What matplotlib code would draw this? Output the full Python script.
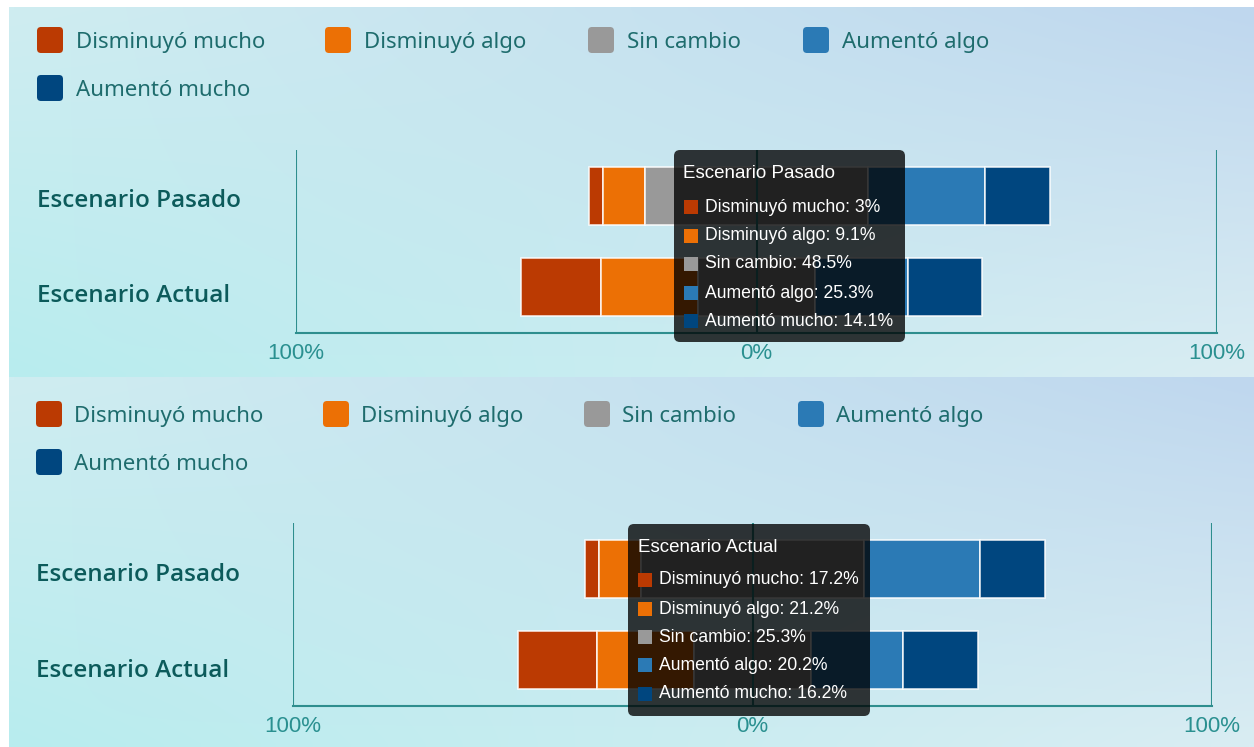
import numpy as np
import matplotlib
matplotlib.use("Agg")
import matplotlib.pyplot as plt
from matplotlib.patches import FancyBboxPatch, Rectangle

# ---------------- data ----------------
categories = ["Escenario Pasado", "Escenario Actual"]
series_names = ["Disminuyó mucho", "Disminuyó algo", "Sin cambio", "Aumentó algo", "Aumentó mucho"]
disminuyo_mucho = [3.0, 17.2]
disminuyo_algo = [9.1, 21.2]
sin_cambio = [48.5, 25.3]
aumento_algo = [25.3, 20.2]
aumento_mucho = [14.1, 16.2]
tick_values = [-100, 0, 100]
tick_labels = ["100%", "0%", "100%"]
tooltip_category = [0, 1]   # top panel tooltip: Pasado, bottom: Actual

colors = ["#bb3a02", "#ec7005", "#999999", "#2b7ab5", "#00467f"]

W, H = 1254, 747
fig = plt.figure(figsize=(W / 100, H / 100), dpi=100)
fig.patch.set_facecolor("white")

def fbox(l, t, r, b):
    return [l / W, 1 - b / H, (r - l) / W, (b - t) / H]

# background axes
bg = fig.add_axes([0, 0, 1, 1], zorder=-10)
bg.set_xlim(0, W); bg.set_ylim(H, 0); bg.axis("off")

def gradient(tl, tr, bl, br, n=60, m=120):
    tl, tr, bl, br = [np.array(matplotlib.colors.to_rgb(c)) for c in (tl, tr, bl, br)]
    v = np.linspace(0, 1, n)[:, None, None]
    u = np.linspace(0, 1, m)[None, :, None]
    top = tl * (1 - u) + tr * u
    bot = bl * (1 - u) + br * u
    return top * (1 - v) + bot * v

panels = [
    dict(top=7, bot=377, ax=(296, 150, 1217, 333),
         leg_x=[37, 325, 588, 803, 37], leg_y=[40, 40, 40, 40, 88], leg_off=39,
         lab_x=37, lab_base=[207, 302], tip=(674, 150, 905, 342), tip_title=(683, 172),
         tip_rows=[207, 236, 264, 293, 321], tip_sq=684, tip_tx=705),
    dict(top=377, bot=747, ax=(293, 523, 1212, 706),
         leg_x=[36, 323, 584, 798, 36], leg_y=[414, 414, 414, 414, 462], leg_off=38,
         lab_x=36, lab_base=[581, 677], tip=(628, 524, 870, 716), tip_title=(638, 547),
         tip_rows=[580, 609, 637, 665, 694], tip_sq=638, tip_tx=659),
]

for p in panels:
    bg.imshow(gradient("#cfedf1", "#bfd7ee", "#b8ecee", "#d9edf3"),
              extent=[9, W, p["bot"], p["top"]], aspect="auto", interpolation="bilinear")

series = [disminuyo_mucho, disminuyo_algo, sin_cambio, aumento_algo, aumento_mucho]
data = np.array(series)  # shape (5, ncat)

overlay = fig.add_axes([0, 0, 1, 1], zorder=10)
overlay.set_xlim(0, W); overlay.set_ylim(H, 0); overlay.axis("off")
overlay.patch.set_alpha(0)

teal_line = "#2e8e8e"
teal_tick = "#2a9090"
legend_col = "#1e6c6d"
label_col = "#0c5b5b"

for pi, p in enumerate(panels):
    l, t, r, b = p["ax"]
    ax = fig.add_axes(fbox(l, t, r, b), zorder=1)
    ax.patch.set_alpha(0)
    y = np.arange(len(categories))
    starts = -(data[0] + data[1] + data[2] / 2.0)
    left = starts.copy()
    for si in range(len(series_names)):
        ax.barh(y, data[si], left=left, height=0.63, color=colors[si],
                edgecolor=(1, 1, 1, 0.85), linewidth=1.2, zorder=2)
        left = left + data[si]
    ax.set_xlim(-100, 100)
    ax.set_ylim(len(categories) - 0.5, -0.5)
    ax.set_xticks(tick_values)
    ax.set_xticklabels(tick_labels, family="Liberation Sans", fontsize=16, color=teal_tick)
    ax.set_yticks(y)
    ax.set_yticklabels([])
    ax.tick_params(axis="y", length=0)
    ax.tick_params(axis="x", length=0, pad=7)
    for s in ["top", "left", "right"]:
        ax.spines[s].set_visible(False)
    ax.spines["bottom"].set_color(teal_line)
    ax.spines["bottom"].set_linewidth(1.5)
    ax.xaxis.grid(True, color=teal_line, linewidth=1.5)
    ax.yaxis.grid(False)
    ax.set_axisbelow(False)

    # category labels
    for ci, cat in enumerate(categories):
        overlay.text(p["lab_x"], p["lab_base"][ci], cat, family="Open Sans",
                     fontsize=17.5, fontweight="semibold", color=label_col,
                     va="baseline", ha="left", zorder=1)

    # legend
    for si, name in enumerate(series_names):
        lx, ly = p["leg_x"][si], p["leg_y"][si]
        overlay.add_patch(FancyBboxPatch((lx, ly - 13), 26, 26,
                                         boxstyle="round,pad=0,rounding_size=4",
                                         facecolor=colors[si], edgecolor="none"))
        overlay.text(lx + p["leg_off"], ly + 8, name, family="Noto Sans", fontsize=16,
                     color=legend_col, va="baseline", ha="left")

    # tooltip
    ci = tooltip_category[pi]
    tl_, tt_, tr_, tb_ = p["tip"]
    overlay.add_patch(FancyBboxPatch((tl_, tt_), tr_ - tl_, tb_ - tt_,
                                     boxstyle="round,pad=0,rounding_size=6",
                                     facecolor=(0, 0, 0, 0.78), edgecolor="none", zorder=5))
    overlay.text(p["tip_title"][0], p["tip_title"][1] + 1, categories[ci],
                 family="Liberation Sans", fontsize=13.5, color="white",
                 va="center", ha="left", zorder=6)
    for si, name in enumerate(series_names):
        ry = p["tip_rows"][si]
        overlay.add_patch(Rectangle((p["tip_sq"], ry - 7), 14, 14,
                                    facecolor=colors[si], edgecolor="none", zorder=6))
        overlay.text(p["tip_tx"], ry, f"{name}: {data[si][ci]:g}%",
                     family="Liberation Sans", fontsize=12.7, color="white",
                     va="center", ha="left", zorder=6)

fig.savefig("out.png", dpi=100)
